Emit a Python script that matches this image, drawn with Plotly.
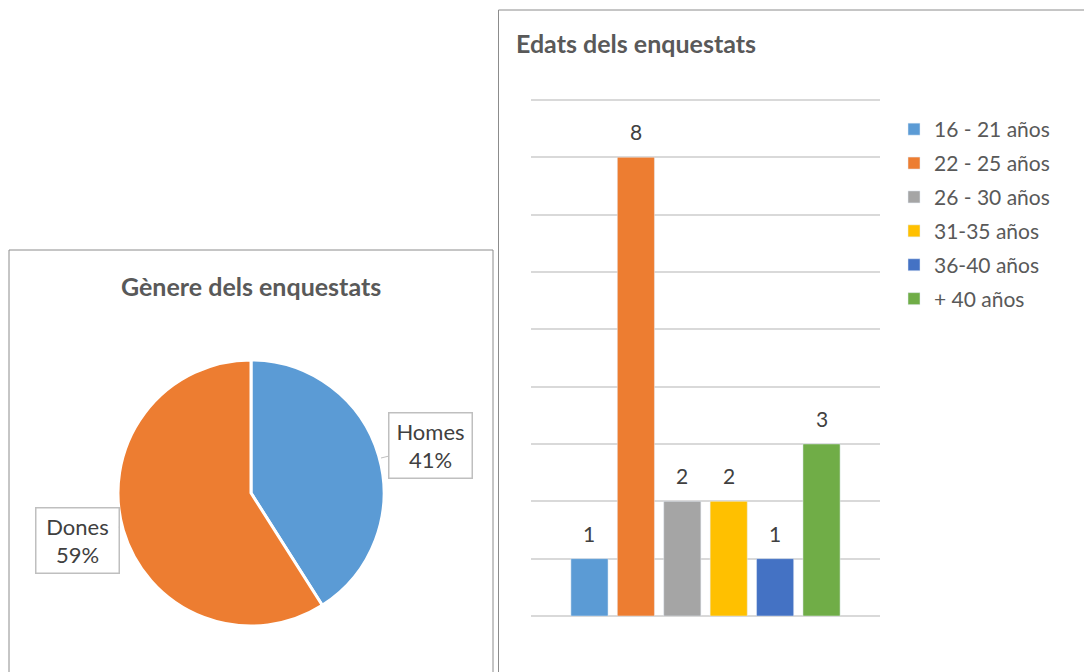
import plotly.graph_objects as go

# dades del gràfic de sectors
genere = ["Homes", "Dones"]
genere_pct = [41, 59]
genere_colors = ["#5B9BD5", "#ED7D31"]

# dades del gràfic de barres
edats = ["16 - 21 años", "22 - 25 años", "26 - 30 años", "31-35 años", "36-40 años", "+ 40 años"]
edats_n = [1, 8, 2, 2, 1, 3]
edats_colors = ["#5B9BD5", "#ED7D31", "#A5A5A5", "#FFC000", "#4472C4", "#70AD47"]

W, H = 1092, 672
FONT = "Lato"
OFF = 8  # la pàgina té un marge de 8px al voltant de la figura


def px(x):
    return (x - OFF) / W


def py(y):
    return 1 - (y - OFF) / H


fig = go.Figure()

fig.add_trace(go.Pie(
    labels=genere,
    values=genere_pct,
    marker=dict(colors=genere_colors, line=dict(color="white", width=3)),
    sort=False,
    direction="clockwise",
    rotation=0,
    textinfo="none",
    hoverinfo="label+percent",
    showlegend=False,
    domain=dict(x=[px(118), px(384)], y=[py(626), py(360)]),
))

# cada franja d'edat en la seva pròpia categoria
for name, n, c in zip(edats, edats_n, edats_colors):
    fig.add_trace(go.Bar(
        x=[name], y=[n], name=name, marker_color=c, legendgroup=name,
        hovertemplate="%{x}: %{y}<extra></extra>",
    ))
    fig.add_annotation(x=name, y=n, xref="x", yref="y", text=str(n),
                       showarrow=False, yanchor="bottom", yshift=11,
                       font=dict(size=21, color="#404040", family=FONT))

fig.update_layout(
    width=W, height=H,
    margin=dict(l=0, r=0, t=0, b=0),
    paper_bgcolor="white", plot_bgcolor="white",
    font=dict(family=FONT, color="#595959"),
    barmode="overlay", bargap=0.2,
    xaxis=dict(domain=[px(531), px(880)], range=[-1.26, 6.26], type="category",
               showticklabels=False, showgrid=False, zeroline=False, showline=False),
    yaxis=dict(domain=[py(616), py(97)], range=[0, 9.05], dtick=1, showticklabels=False,
               showgrid=True, gridcolor="#D9D9D9", gridwidth=1.5,
               zeroline=True, zerolinecolor="#D9D9D9", zerolinewidth=1.5),
    legend=dict(x=px(894), y=py(109), xanchor="left", yanchor="top",
                font=dict(size=21, color="#595959", family=FONT),
                tracegroupgap=3.6, bgcolor="rgba(0,0,0,0)"),
    showlegend=True,
)

# marcs dels dos panells
fig.add_shape(type="rect", xref="paper", yref="paper",
              x0=px(9), x1=px(493), y0=py(700), y1=py(250),
              line=dict(color="#8C8C8C", width=1))
fig.add_shape(type="rect", xref="paper", yref="paper",
              x0=px(498.5), x1=px(1200), y0=py(700), y1=py(10),
              line=dict(color="#8C8C8C", width=1))

# títols
fig.add_annotation(text="<b>Gènere dels enquestats</b>", xref="paper", yref="paper",
                   x=px(251), y=py(286), xanchor="center", yanchor="middle",
                   showarrow=False, font=dict(size=25, color="#595959", family=FONT))
fig.add_annotation(text="<b>Edats dels enquestats</b>", xref="paper", yref="paper",
                   x=px(514), y=py(43), xanchor="left", yanchor="middle",
                   showarrow=False, font=dict(size=25, color="#595959", family=FONT))

# etiquetes del sector
callouts = [
    (px(381), py(458), 49, -12),
    (px(119), py(527), -42, 13),
]
for name, pct, (xx, yy, ax, ay) in zip(genere, genere_pct, callouts):
    fig.add_annotation(text=f"{name}<br>{pct}%", xref="paper", yref="paper",
                       x=xx, y=yy, ax=ax, ay=ay, showarrow=True, arrowhead=0,
                       arrowwidth=1, arrowcolor="#BFBFBF",
                       bordercolor="#BFBFBF", borderwidth=1.5, borderpad=3,
                       width=76, height=58, bgcolor="white",
                       font=dict(size=22, color="#404040", family=FONT))

fig.write_html("out.html")
